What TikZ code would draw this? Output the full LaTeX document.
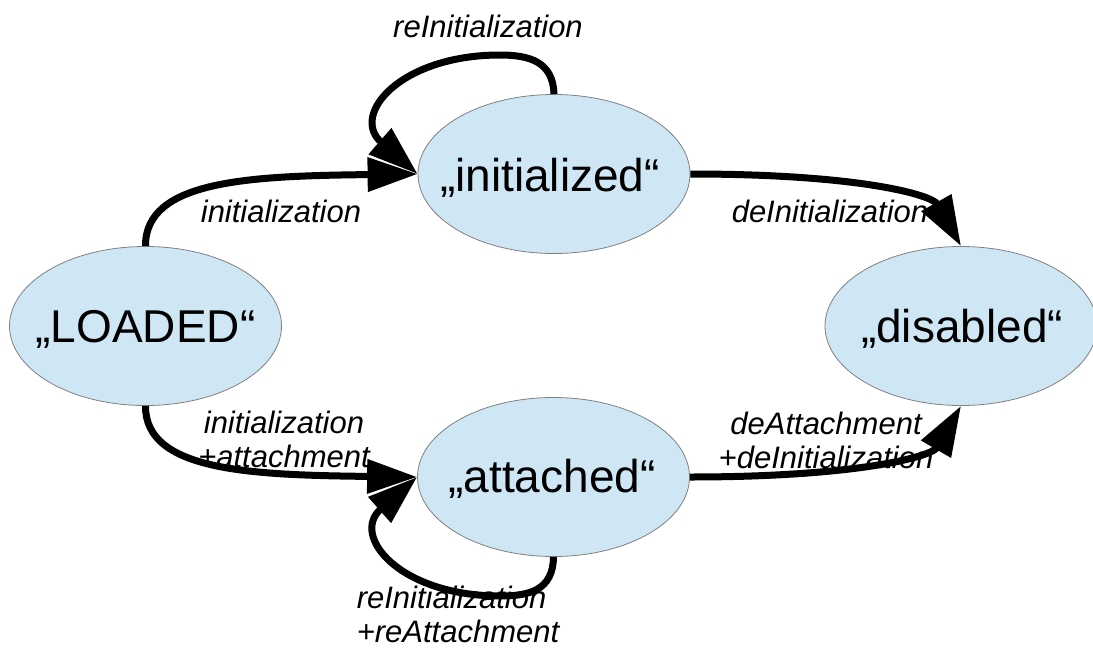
\documentclass[tikz,border=0pt]{standalone}
\usepackage{fontspec}
\setmainfont{Liberation Sans}
\usetikzlibrary{shapes.geometric,arrows.meta}
\definecolor{statefill}{RGB}{207,231,245}
\definecolor{stateline}{RGB}{128,128,128}
\begin{document}
\begin{tikzpicture}[x=1pt,y=-1pt,
  state/.style={ellipse, draw=stateline, line width=0.8pt, fill=statefill,
    minimum width=272pt, minimum height=159pt, inner sep=0pt},
  statetext/.style={anchor=base, font=\fontsize{46}{50}\selectfont, inner sep=0pt},
  lbl/.style={anchor=base, font=\fontsize{31}{34}\selectfont\itshape, inner sep=0pt},
  trans/.style={line width=7pt, -{Triangle[length=50pt,width=33pt]}}]
\useasboundingbox (0,0) rectangle (1093,648);
% states
\node[state] (L) at (145.5,326) {};
\node[state] (I) at (554,174) {};
\node[state] (A) at (553.5,477) {};
\node[state] (D) at (961,326) {};
\node[statetext] (Lt) at (145.5,342) {„LOADED“};
\node[statetext] (It) at (550,191) {„initialized“};
\node[statetext] (At) at (552,492) {„attached“};
\node[statetext] (Dt) at (962,342) {„disabled“};
% labels
\node[lbl] (l1) at (488,37) {reInitialization};
\node[lbl] (l2) at (281,222) {initialization};
\node[lbl] (l3) at (830,222) {deInitialization};
\node[lbl, align=center] (l4) at (284,467) {initialization\\+attachment};
\node[lbl, align=center] (l5) at (826,468) {deAttachment\\+deInitialization};
\node[lbl, align=left] (l6) at (458,642) {reInitialization\\+reAttachment};
% transitions
\draw[trans] (L.north) .. controls (145,180) and (250,176) .. (I.west);
\draw[trans] (L.south) .. controls (145,471) and (250,475) .. (A.west);
\draw[trans] (I.east) .. controls (860,174) and (932,195) .. (D.north);
\draw[trans] (A.east) .. controls (860,477) and (932,456) .. (D.south);
\draw[trans] (I.north) .. controls (553,62) and (530,55) .. (500,55)
  .. controls (400,55) and (350,115) .. (I.west);
\draw[trans] (A.south) .. controls (553,590) and (530,596) .. (500,596)
  .. controls (400,596) and (350,536) .. (A.west);
\end{tikzpicture}
\end{document}
